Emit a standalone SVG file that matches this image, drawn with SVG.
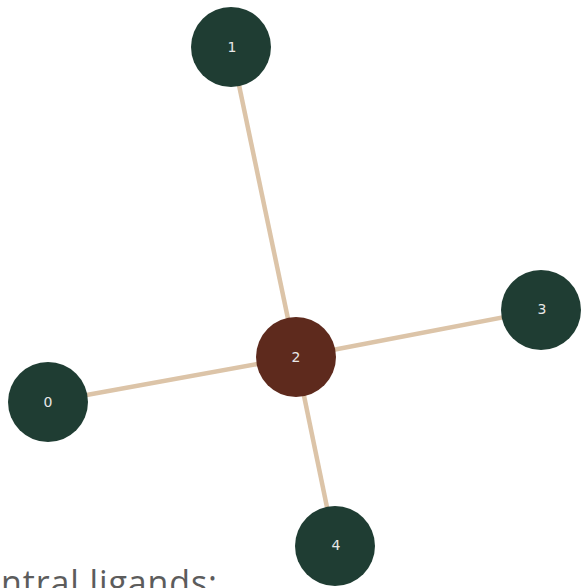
<svg xmlns="http://www.w3.org/2000/svg" width="582" height="588" viewBox="0 0 582 588">
<style>
.edge{stroke:#dcc4a8;stroke-width:4.5;fill:none}
.node circle{fill:#1f3d33}
.center circle{fill:#5e2a1d}
.node text{fill:#e8e8e8;font-family:"DejaVu Sans",sans-serif;font-size:14px;text-anchor:middle;dominant-baseline:central}
.caption{fill:#5c5c5c;font-family:"Open Sans","Noto Sans",sans-serif;font-size:34px}
</style>
<rect width="582" height="588" fill="#fff"/>
<g id="connectors">
<line class="edge" x1="296" y1="357" x2="231" y2="47"/>
<line class="edge" x1="296" y1="357" x2="541" y2="310"/>
<line class="edge" x1="296" y1="357" x2="48" y2="402"/>
<line class="edge" x1="296" y1="357" x2="335" y2="546"/>
</g>
<g id="node1" class="node"><circle cx="231" cy="47" r="40"/><text x="232" y="47">1</text></g>
<g id="node3" class="node"><circle cx="541" cy="310" r="40"/><text x="542" y="309">3</text></g>
<g id="node0" class="node"><circle cx="48" cy="402" r="40"/><text x="48" y="402">0</text></g>
<g id="node4" class="node"><circle cx="335" cy="546" r="40"/><text x="336" y="545">4</text></g>
<g id="node2" class="node center"><circle cx="296" cy="357" r="40"/><text x="296" y="357">2</text></g>
<text class="caption" x="1" y="595" textLength="216" lengthAdjust="spacing">ntral ligands:</text>
</svg>
